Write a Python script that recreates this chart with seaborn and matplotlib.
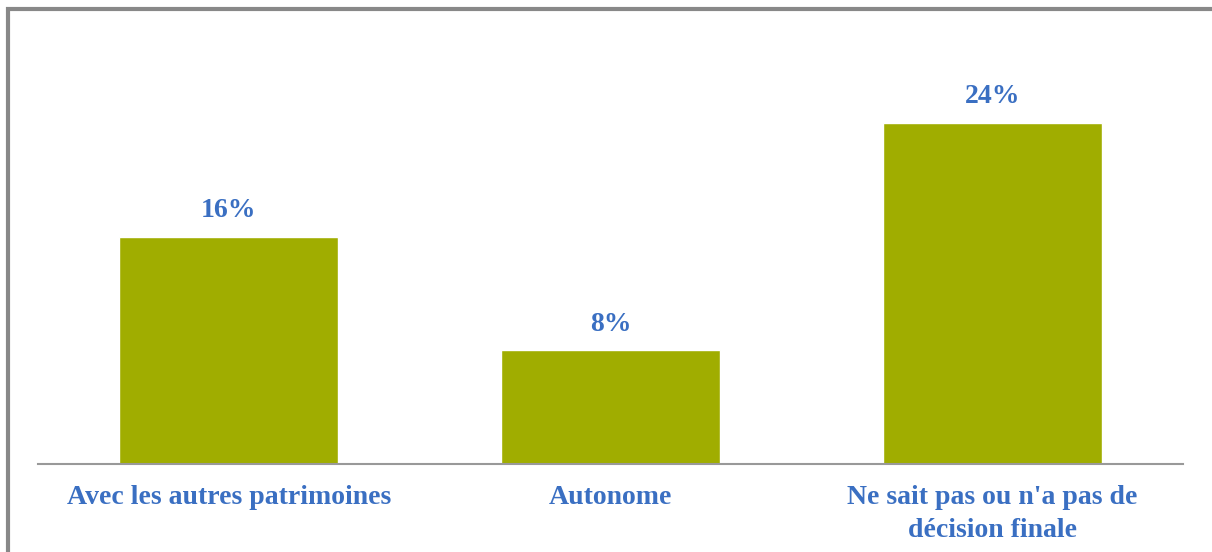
import matplotlib
matplotlib.use("Agg")
import matplotlib.pyplot as plt
import pandas as pd
import seaborn as sns
from matplotlib.patches import Rectangle

# données
categories = ["Avec les autres patrimoines", "Autonome", "Ne sait pas ou n'a pas de\ndécision finale"]
valeurs = [16, 8, 24]

df = pd.DataFrame({"cat": categories, "val": valeurs})

sns.set_style("white")
plt.rcParams['font.family'] = ['Liberation Serif', 'DejaVu Serif']

bleu = "#3A6FC2"
vert = "#A0AD00"

fig = plt.figure(figsize=(12.12, 5.52), dpi=100)
ax = fig.add_axes([38/1212, 88/552, 1145/1212, 426/552])

sns.barplot(data=df, x="cat", y="val", color=vert, width=0.574, saturation=1, ax=ax)
ax.set_ylim(0, 30)
ax.set_xlim(-0.5, 2.5)

for p, v in zip(ax.patches, valeurs):
    ax.annotate(f"{v}%", (p.get_x() + p.get_width()/2, p.get_height()),
                xytext=(0, 10), textcoords="offset points", ha="center", va="bottom",
                fontsize=20, fontweight="bold", color=bleu)

ax.set_xlabel("")
ax.set_ylabel("")
ax.set_yticks([])
ax.tick_params(axis="x", length=0, pad=15)
for lab in ax.get_xticklabels():
    lab.set_fontsize(20)
    lab.set_fontweight("bold")
    lab.set_color(bleu)
    lab.set_linespacing(1.45)

for s in ["top", "left", "right"]:
    ax.spines[s].set_visible(False)
ax.spines["bottom"].set_color("#999999")
ax.spines["bottom"].set_linewidth(1.5)

# cadre gris (haut et gauche)
fig.patches.append(Rectangle((7.5/1212, -0.1), 1.2, 1.1 - 8.5/552, transform=fig.transFigure,
                             fill=False, edgecolor="#888888", linewidth=3))

fig.savefig("out.png", dpi=100)
